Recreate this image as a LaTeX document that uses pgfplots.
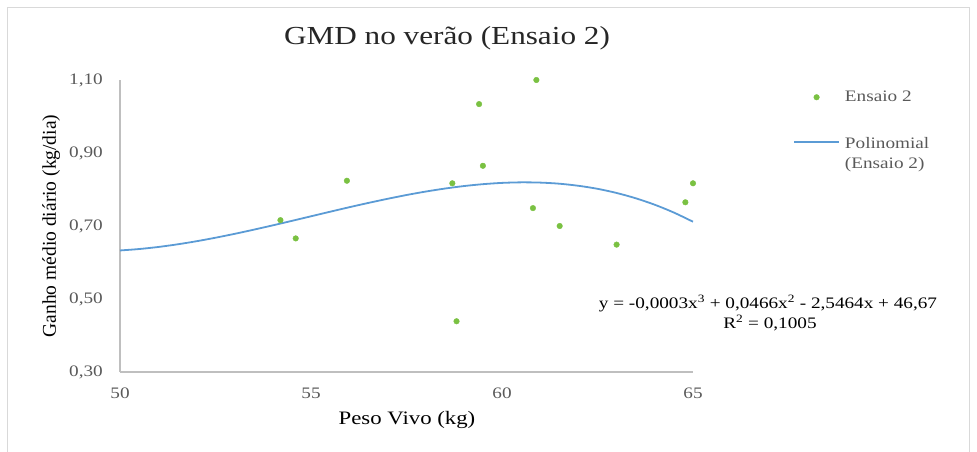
\documentclass[border=0pt]{standalone}
\usepackage{pgfplots}
\pgfplotsset{compat=1.18}
\usepackage{fontspec}
\setmainfont{Liberation Serif}[FakeStretch=1.2]
\newfontfamily\ylabfont{Liberation Serif}
\definecolor{ptgreen}{RGB}{122,193,66}
\definecolor{lineblue}{RGB}{91,155,213}
\definecolor{axgray}{RGB}{191,191,191}
\definecolor{tickgray}{RGB}{89,89,89}
\definecolor{bordergray}{RGB}{217,217,217}
\begin{document}
\begin{tikzpicture}
\path[use as bounding box] (0pt,0pt) rectangle (977pt,452pt);
\draw[bordergray, line width=1.5pt] (7.5pt,-5pt) -- (7.5pt,444.5pt) -- (969.5pt,444.5pt) -- (969.5pt,-5pt);
\begin{axis}[
  at={(120pt,80pt)}, anchor=south west,
  scale only axis, width=573pt, height=292pt,
  xmin=50, xmax=65, ymin=0.3, ymax=1.1,
  xtick={50,55,60,65}, ytick={0.3,0.5,0.7,0.9,1.1},
  axis lines=left, axis line style={-, draw=axgray, line width=1.3pt},
  major tick length=0pt, clip=false,
  tick label style={font=\fontsize{16}{18}\selectfont, text=tickgray, inner sep=0pt},
  yticklabel style={anchor=east, xshift=-17pt, /pgf/number format/.cd, fixed, fixed zerofill, precision=2, use comma, assume math mode=true},
  xticklabel style={anchor=base, yshift=-27pt, /pgf/number format/assume math mode=true},
  title={GMD no verão (Ensaio 2)},
  title style={at={(axis description cs:0.5707,1.1027)}, anchor=base, font=\fontsize{26}{30}\selectfont, text=black!85},
  xlabel={Peso Vivo (kg)},
  xlabel style={at={(axis description cs:0.5009,-0.1815)}, anchor=base, font=\fontsize{19}{22}\selectfont},
  ylabel={Ganho médio diário (kg/dia)},
  ylabel style={at={(axis description cs:-0.1117,0.5)}, anchor=base, font=\ylabfont\fontsize{19.5}{22}\selectfont},
  legend style={at={(axis description cs:1.1745,0.9623)}, anchor=north west, draw=none, fill=none, inner sep=0pt,
    font=\fontsize{16}{20}\selectfont, text=tickgray, row sep=34.5pt, column sep=5pt,
    cells={anchor=west, align=left}, nodes={inner sep=0pt}},
  legend cell align=left,
]
\addplot[only marks, mark=*, mark size=2.8pt, color=ptgreen,
  legend image code/.code={\path (0pt,0pt) (45pt,0pt); \fill[ptgreen] (22.5pt,0pt) circle (2.8pt);}]
  coordinates {
  (54.20,0.716) (54.60,0.666) (55.94,0.824) (58.70,0.817) (58.81,0.439)
  (59.40,1.034) (59.50,0.865) (60.81,0.749) (60.90,1.100) (61.51,0.700)
  (63.00,0.649) (64.80,0.765) (65.00,0.817)
  };
\addlegendentry{Ensaio 2}
\addplot[smooth, no marks, color=lineblue, line width=1.8pt,
  legend image code/.code={\draw[lineblue, line width=1.8pt] (0pt,12.5pt) -- (45pt,12.5pt);}]
  coordinates {
  (50.0,0.6330) (50.5,0.6369) (51.0,0.6425) (51.5,0.6497) (52.0,0.6582)
  (52.5,0.6679) (53.0,0.6785) (53.5,0.6899) (54.0,0.7018) (54.5,0.7141)
  (55.0,0.7266) (55.5,0.7391) (56.0,0.7514) (56.5,0.7632) (57.0,0.7744)
  (57.5,0.7849) (58.0,0.7943) (58.5,0.8025) (59.0,0.8094) (59.5,0.8146)
  (60.0,0.8181) (60.5,0.8196) (61.0,0.8189) (61.5,0.8159) (62.0,0.8102)
  (62.5,0.8019) (63.0,0.7905) (63.5,0.7760) (64.0,0.7582) (64.5,0.7368)
  (65.0,0.7117)
  };
\addlegendentry{Polinomial\\(Ensaio 2)}
\end{axis}
\node[anchor=base, font=\fontsize{16}{18}\selectfont] at (768pt,143pt) {y = -0,0003x\textsuperscript{3} + 0,0466x\textsuperscript{2} - 2,5464x + 46,67};
\node[anchor=base, font=\fontsize{16}{18}\selectfont] at (770pt,123pt) {R\textsuperscript{2} = 0,1005};
\end{tikzpicture}
\end{document}
